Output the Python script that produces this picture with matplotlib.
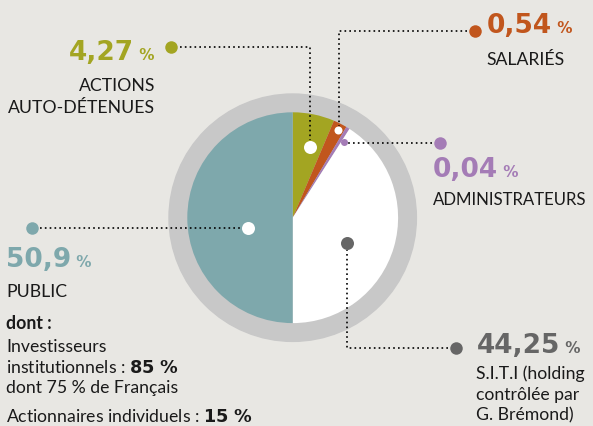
import matplotlib.pyplot as plt
from matplotlib.patches import Circle

# shareholders, clockwise from 12 o'clock
names = ["ACTIONS\nAUTO-DÉTENUES", "SALARIÉS", "ADMINISTRATEURS",
         "S.I.T.I (holding\ncontrôlée par\nG. Brémond)", "PUBLIC"]
pct_labels = ["4,27", "0,54", "0,04", "44,25", "50,9"]
# slice shares as drawn in the infographic (small holders are exaggerated)
drawn_shares = [6.4, 2.1, 0.55, 40.95, 50.0]
colors = ["#A3A522", "#C1561D", "#A47CB6", "#FFFFFF", "#7EA8AC"]
num_colors = ["#A3A522", "#C1561D", "#A47CB6", "#666666", "#7EA8AC"]

W, H = 593, 426
BG = "#E8E7E3"
FONT = "Lato"
NUM_FONT = "DejaVu Sans"


def Y(y):
    return H - y


fig = plt.figure(figsize=(W / 100, H / 100), dpi=100, facecolor=BG)
ax = fig.add_axes([0, 0, 1, 1])
ax.set_facecolor(BG)

cx, cy = 292.7, Y(217.7)
ax.add_patch(Circle((cx, cy), 123.7, color="#C8C8C8", zorder=1))
ax.pie(drawn_shares, colors=colors, startangle=90, counterclock=False,
       center=(cx, cy), radius=105.4, frame=True,
       wedgeprops=dict(linewidth=0, zorder=2))
ax.set_xlim(0, W)
ax.set_ylim(0, H)
ax.set_aspect("equal")
ax.axis("off")

DOT = dict(linestyle=(0, (1, 1.9)), color="black", lw=1.2, zorder=3)

# leader paths: (points of the dotted line, inner dot, inner colour, inner size, outer dot)
leaders = [
    ([(180, 47), (310, 47), (310, 140)], (310, 146.7), "white", 13, (171, 46.7)),
    ([(467, 31), (339.3, 31), (339.3, 126)], (337.7, 130), "white", 8, (475, 31)),
    ([(432, 143), (348, 143)], (344, 142.3), colors[2], 7, (440, 143)),
    ([(448, 348.3), (347, 348.3), (347, 250)], (346.7, 243.3), "#666666", 13, (456, 348.3)),
    ([(40, 227.7), (242, 227.7)], (248.3, 227.7), "white", 13, (32.3, 227.7)),
]
for i, (path, inner, icol, isize, outer) in enumerate(leaders):
    xs = [p[0] for p in path]
    ys = [Y(p[1]) for p in path]
    ax.plot(xs, ys, **DOT)
    ax.plot(inner[0], Y(inner[1]), "o", color=icol, ms=isize * 0.72,
            mec="none", zorder=4)
    ax.plot(outer[0], Y(outer[1]), "o", color=num_colors[i], ms=9,
            mec="none", zorder=4)

NUM_FS = 19
PCT_FS = 11
LAB_FS = 12.7

fig.canvas.draw()
R = fig.canvas.get_renderer()


def big_number(x, y, i, ha="left"):
    t = ax.text(x, Y(y), pct_labels[i], fontsize=NUM_FS, fontweight="bold",
                color=num_colors[i], family=NUM_FONT, va="baseline", ha="left")
    tw = t.get_window_extent(R).width
    p = ax.text(x + tw, Y(y), " %", fontsize=PCT_FS, fontweight="bold",
                color=num_colors[i], family=NUM_FONT, va="baseline", ha="left")
    if ha == "right":
        pw = p.get_window_extent(R).width
        t.set_x(x - pw - tw)
        p.set_x(x - pw)


def label(x, y, text, ha="left", weight="normal", fs=LAB_FS):
    ax.text(x, Y(y), text, fontsize=fs, color="#1A1A1A", family=FONT,
            va="baseline", ha=ha, fontweight=weight)


big_number(155, 60, 0, ha="right")
label(155, 90.7, "ACTIONS", ha="right")
label(155, 113, "AUTO-DÉTENUES", ha="right")

big_number(486.5, 33.3, 1)
label(486, 65, names[1])

big_number(433, 176.7, 2)
label(432.7, 205, names[2], fs=12.1)

big_number(477, 352.7, 3)
for k, line in enumerate(names[3].split("\n")):
    label(476, 379 + k * 20.7, line)

big_number(6, 266.7, 4)
label(6, 296.7, names[4])
label(6, 329, "dont :", weight="bold")
label(6, 351.7, "Investisseurs")
label(6, 373.3, "institutionnels : $\\bf{85\\ \\%}$")
label(6, 393.3, "dont 75 % de Français")
label(6, 421.5, "Actionnaires individuels : $\\bf{15\\ \\%}$")

fig.savefig("out.png", dpi=100, facecolor=BG)
